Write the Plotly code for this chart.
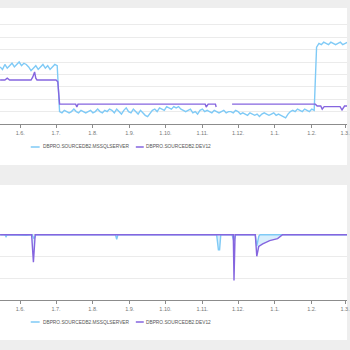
import pandas as pd
import plotly.graph_objects as go

# ---------------- data ----------------
base_date = "2018-06-01"
series_names = ["DBPRO.SOURCEDB2.MSSQLSERVER", "DBPRO.SOURCEDB2.DEV12"]

# top panel, MSSQLSERVER: one value every 2 days from day -17 to day 275 (days relative to 1.6.)
top_blue_start_day = -17
top_blue_step_days = 2
top_blue_values = [
    46, 44, 48, 45, 47, 49, 46, 48, 50, 47, 49, 48, 46, 43, 45, 47, 44, 46, 48, 45, 47, 44, 46, 48, 47,
    10, 9, 11, 10, 9, 10, 12, 10, 9, 11, 10, 9, 10, 11, 9, 10, 12, 10, 9, 11, 10, 12,
    11, 9, 12, 10, 8, 11, 13, 10, 9, 12, 10, 8, 11, 9, 7, 6,
    9, 11, 12, 10, 13, 12, 11, 14, 13, 12, 14,
    13, 14, 12, 11, 10, 11, 12, 9, 10, 8, 11, 12, 10, 11,
    10, 9, 11, 10, 9, 10, 11, 9, 10, 10, 9, 11, 10,
    8, 9, 8, 7, 9, 8, 7, 8, 6, 8, 9, 8, 7, 8, 9, 7, 8, 7, 6, 5, 8,
    10, 11, 10, 12, 11, 10, 12, 11, 10, 12, 11,
    62, 65, 64, 66, 65, 64, 66, 65, 64, 65, 66, 64, 65, 66,
]

# top panel, DEV12 (None = no data)
top_purple_days = [-17, -13, -11, -9, 9, 10.5, 12, 13, 14, 30, 31.5, 33, 46.5, 47.5, 48.5,
                   155.4, 156.25, 157.9, 164, 164.6, 171, 178, 248, 249.5, 252.5, 253.75,
                   255.4, 268.75, 270.4, 272.5, 275]
top_purple_values = [35.5, 35.5, 37, 35.5, 35.5, 38, 42, 37, 35.5, 35.5, 34, 16, 16, 13.7, 16,
                     16, 13.7, 16, 16, 13.7, None, 16, 16, 14.5, 14.5, 12,
                     14, 14, 11.3, 14.5, 14.5]

# bottom panel, MSSQLSERVER
bottom_blue_days = [-17, -13, -12, -11, 5, 10, 11.5, 13, 30, 60, 80, 81, 82, 120, 150, 165,
                    166.5, 167.5, 168.5, 178, 179.5, 181, 197.5, 198.75, 200.5, 201.5, 230, 275]
bottom_blue_values = [100, 100, 97, 100, 99, 100, 94, 100, 100, 100, 100, 93, 100, 100, 100, 100,
                      77, 77, 100, 100, 90, 100, 100, 83, 98, 100, 100, 100]

# bottom panel, DEV12
bottom_purple_days = [-17, 9.5, 11, 12.5, 60, 179, 179.6, 180.5, 197.5, 198.75, 200.4, 203.75,
                      209.6, 216.25, 220.4, 275]
bottom_purple_values = [100, 100, 58, 100, 100, 100, 30, 100, 100, 67, 82, 86,
                        91, 94, 100, 100]

x_range_days = [-17.08, 274.58]

# ---------------- helpers ----------------
b0 = pd.Timestamp(base_date)


def to_dates(days):
    return [b0 + pd.to_timedelta(d, unit="D") for d in days]


top_blue_days = [top_blue_start_day + i * top_blue_step_days for i in range(len(top_blue_values))]

BLUE = "#7fcaf6"
PURPLE = "#8565df"
W, H = 350, 350


def py(px):
    return 1 - px / H


fig = go.Figure()
fig.add_trace(go.Scatter(x=to_dates(top_blue_days), y=top_blue_values, mode="lines",
                         line=dict(color=BLUE, width=1.4), xaxis="x", yaxis="y",
                         name=series_names[0], showlegend=False))
fig.add_trace(go.Scatter(x=to_dates(top_purple_days), y=top_purple_values, mode="lines",
                         line=dict(color=PURPLE, width=1.4), connectgaps=False,
                         xaxis="x", yaxis="y", name=series_names[1], showlegend=False))
fig.add_trace(go.Scatter(x=to_dates(bottom_blue_days), y=bottom_blue_values, mode="lines",
                         line=dict(color=BLUE, width=1.4), xaxis="x2", yaxis="y2",
                         name=series_names[0], showlegend=False))
fig.add_trace(go.Scatter(x=to_dates(bottom_purple_days), y=bottom_purple_values, mode="lines",
                         line=dict(color=PURPLE, width=1.4), fill="tonexty",
                         fillcolor="rgba(127,202,246,0.3)",
                         xaxis="x2", yaxis="y2", name=series_names[1], showlegend=False))

xr = [b0 + pd.to_timedelta(d, unit="D") for d in x_range_days]
tickfont = dict(family="Liberation Sans, Arial, sans-serif", size=5.5, color="#777777")
xcommon = dict(type="date", range=xr, tick0=base_date, dtick="M1", tickformat="%-d.%-m.",
               showgrid=False, showline=True, linecolor="#8c8c8c", linewidth=1,
               ticks="outside", ticklen=3, tickcolor="#8c8c8c", tickfont=tickfont,
               ticklabeloverflow="allow", zeroline=False, fixedrange=True)
ycommon = dict(showgrid=True, gridcolor="#ebebeb", gridwidth=1, showticklabels=False,
               zeroline=False, showline=False, ticks="")

fig.update_layout(
    width=W, height=H, margin=dict(l=0, r=0, t=0, b=0),
    paper_bgcolor="#eeeeee", plot_bgcolor="rgba(0,0,0,0)",
    xaxis=dict(domain=[0, 1], anchor="y", **xcommon),
    yaxis=dict(domain=[py(124), py(12.4)], range=[0, 90], tick0=0, dtick=10, anchor="x", **ycommon),
    xaxis2=dict(domain=[0, 1], anchor="y2", **xcommon),
    yaxis2=dict(domain=[py(300), py(213)], range=[0, 133.34], tick0=0, dtick=100 / 3,
                anchor="x2", **ycommon),
    showlegend=False,
)

# white panels
for top_px, bot_px in [(8, 165), (185, 340)]:
    fig.add_shape(type="rect", xref="paper", yref="paper", x0=0, x1=1,
                  y0=py(bot_px), y1=py(top_px), fillcolor="white", line=dict(width=0),
                  layer="below")

# manual legends
legend_font = dict(family="Liberation Sans, Arial, sans-serif", size=4.8, color="#555555")
legend_items = [(31, 40, 41, BLUE, series_names[0]), (137, 145, 145, PURPLE, series_names[1])]
for ly in [147, 322]:
    for x0, x1, tx, col, label in legend_items:
        fig.add_shape(type="line", xref="paper", yref="paper", x0=x0 / W, x1=x1 / W,
                      y0=py(ly), y1=py(ly), line=dict(color=col, width=1.5))
        fig.add_annotation(xref="paper", yref="paper", x=tx / W, y=py(ly), text=label,
                           showarrow=False, xanchor="left", yanchor="middle",
                           font=legend_font)

fig.write_html("out.html")
